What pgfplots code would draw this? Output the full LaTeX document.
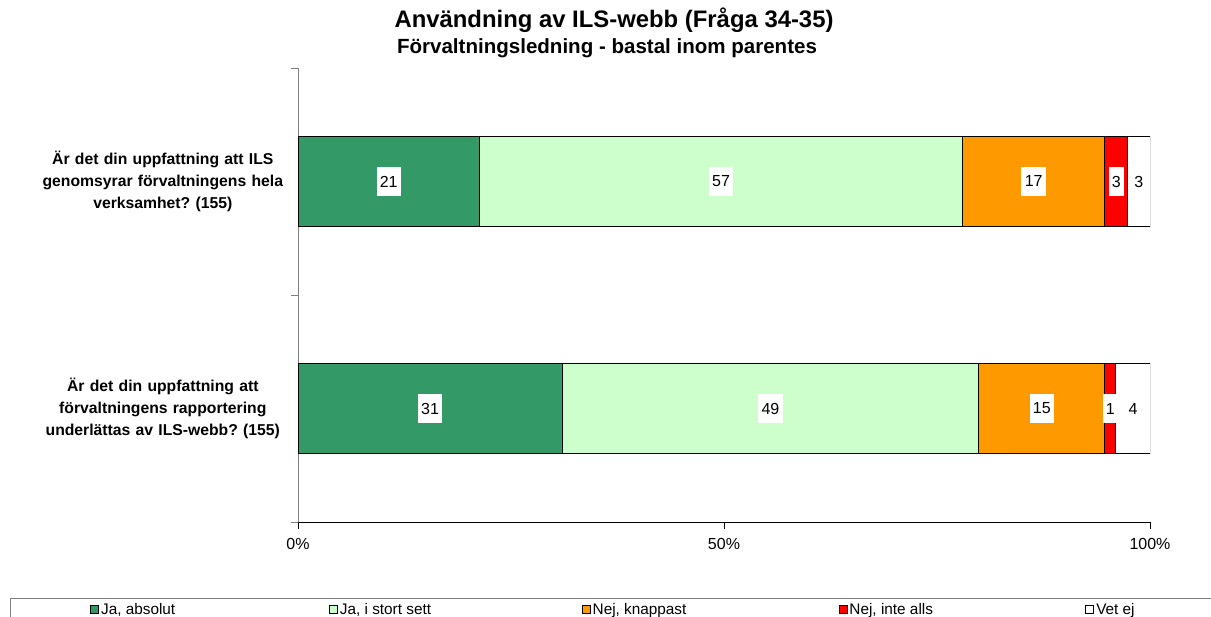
\documentclass[border=0pt]{standalone}
\usepackage{pgfplots}
\pgfplotsset{compat=1.18}
\usepackage{fontspec}
\setmainfont{Liberation Sans}
\frenchspacing
\definecolor{jaabs}{RGB}{51,153,102}
\definecolor{jastort}{RGB}{204,255,204}
\definecolor{nejknapp}{RGB}{255,153,0}
\definecolor{nejinte}{RGB}{255,0,0}
\definecolor{axgray}{RGB}{128,128,128}

\begin{document}
\begin{tikzpicture}
% 1 px of the reference = 0.75pt, origin at bottom left
\useasboundingbox (0pt,0pt) rectangle (908.25pt,462.75pt);
\node[font=\bfseries\fontsize{17.9}{21}\selectfont] at (460.5pt,447.75pt) {Användning av ILS-webb (Fråga 34-35)};
\node[font=\bfseries\fontsize{15.4}{18}\selectfont] at (455.25pt,426.75pt) {Förvaltningsledning - bastal inom parentes};
\begin{axis}[
  at={(223.5pt,71.25pt)}, anchor=south west,
  scale only axis, width=639pt, height=340.5pt,
  xbar stacked, bar width=0.4,
  xmin=0, xmax=100, ymin=-0.5, ymax=1.5,
  axis x line*=bottom, axis y line*=left,
  x axis line style={black,-}, y axis line style={axgray,-},
  tick align=outside, major tick length=5.5pt,
  xtick={0,50,100}, xticklabels={0\%,50\%,100\%},
  xtick style={black},
  xticklabel style={font=\fontsize{12}{14}\selectfont, yshift=-3.5pt},
  ytick={-0.5,0.5,1.5}, yticklabels={}, ytick style={axgray},
  extra y ticks={0,1},
  extra y tick labels={{Är det din uppfattning att\\förvaltningens rapportering\\underlättas av ILS-webb? (155)},{Är det din uppfattning att ILS\\genomsyrar förvaltningens hela\\verksamhet? (155)}},
  extra y tick style={major tick length=0pt},
  yticklabel style={font=\bfseries\fontsize{11.8}{16.5}\selectfont, align=center, text width=190pt, inner sep=0pt, xshift=-6.2pt},
  nodes near coords, point meta=explicit symbolic,
  every node near coord/.append style={fill=white, text=black, font=\fontsize{12}{14}\selectfont, inner xsep=2.5pt, minimum height=22pt},
  legend columns=5, legend cell align=left,
  legend image code/.code={\draw[#1,draw=black,line width=0.6pt] (0pt,-3pt) rectangle (6pt,3pt);},
  legend style={at={(axis description cs:-0.2441,-0.1935)}, anchor=west, draw=none, fill=none,
    inner sep=0pt, nodes={inner sep=0pt}, font=\fontsize{11.5}{13}\selectfont,
    /tikz/every odd column/.append style={column sep=1.5pt}},
]
\addplot[fill=jaabs, draw=black, line width=0.75pt] coordinates {(31.0,0) [31] (21.3,1) [21]};
\addlegendentry{\makebox[171pt][l]{Ja, absolut}}
\addplot[fill=jastort, draw=black, line width=0.75pt] coordinates {(48.9,0) [49] (56.7,1) [57]};
\addlegendentry{\makebox[181.5pt][l]{Ja, i stort sett}}
\addplot[fill=nejknapp, draw=black, line width=0.75pt] coordinates {(14.8,0) [15] (16.7,1) [17]};
\addlegendentry{\makebox[184.5pt][l]{Nej, knappast}}
\addplot[fill=nejinte, draw=black, line width=0.75pt] coordinates {(1.3,0) [1] (2.7,1) [3]};
\addlegendentry{\makebox[177pt][l]{Nej, inte alls}}
\addplot[fill=white, draw=black, line width=0.75pt] coordinates {(4.0,0) [4] (2.6,1) [3]};
\addlegendentry{Vet ej}
\end{axis}
\draw[axgray] (7.5pt,0pt) -- (7.5pt,14.25pt) -- (908.25pt,14.25pt);
\end{tikzpicture}
\end{document}
